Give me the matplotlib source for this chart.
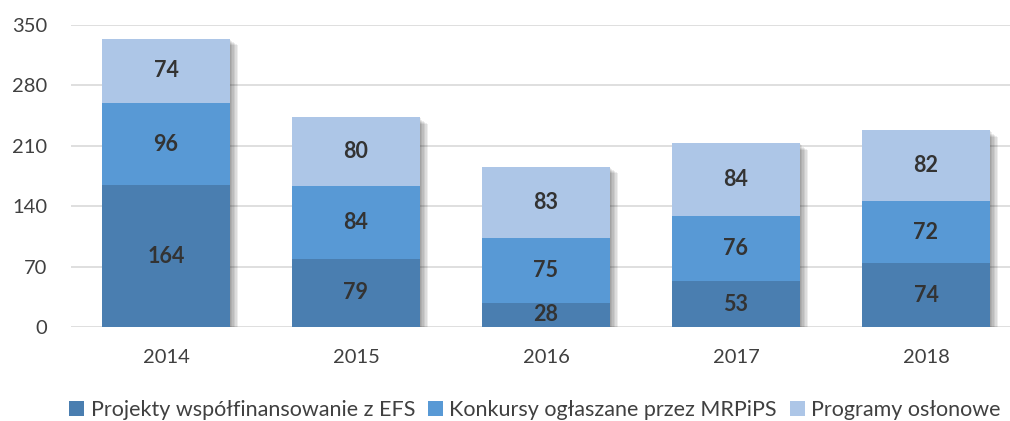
import matplotlib
matplotlib.use("Agg")
import matplotlib.pyplot as plt
import matplotlib.patheffects as pe
import numpy as np

years = ["2014", "2015", "2016", "2017", "2018"]
efs = [164, 79, 28, 53, 74]
mrpips = [96, 84, 75, 76, 72]
oslonowe = [74, 80, 83, 84, 82]

series_names = ["Projekty współfinansowanie z EFS",
                "Konkursy ogłaszane przez MRPiPS",
                "Programy osłonowe"]
colors = ["#4a7eb0", "#5899d5", "#adc6e7"]
yticks = [0, 70, 140, 210, 280, 350]

plt.rcParams["font.family"] = ["Lato", "DejaVu Sans"]

fig = plt.figure(figsize=(10.10, 4.21), dpi=100)
ax = fig.add_axes([71 / 1010, 94 / 421, 950 / 1010, 302 / 421])

x = np.arange(len(years))
width = 0.67
data = [np.array(efs), np.array(mrpips), np.array(oslonowe)]
totals = sum(data)

# soft drop shadow behind each full stack (shadow only, no face drawn)
shadow = [pe.SimplePatchShadow(offset=(d, -d * 0.8), shadow_rgbFace="#000000", alpha=0.07)
          for d in (1, 2, 3, 4, 5, 6)]
ax.bar(x, totals, width, color="none", zorder=1, path_effects=shadow)

bottom = np.zeros(len(years))
for vals, name, col in zip(data, series_names, colors):
    ax.bar(x, vals, width, bottom=bottom, color=col, label=name, zorder=2)
    for xi, b, v in zip(x, bottom, vals):
        ax.text(xi, b + v / 2, str(v), ha="center", va="center",
                fontsize=15.5, fontweight="bold", color="#333333", zorder=3)
    bottom = bottom + vals

ax.set_xlim(-0.5, len(years) - 0.5)
ax.set_ylim(0, 350)
ax.set_yticks(yticks)
ax.set_xticks(x, years)
ax.yaxis.grid(True, color="#d9d9d9", linewidth=1.2)
ax.set_axisbelow(True)
for s in ax.spines.values():
    s.set_visible(False)
ax.tick_params(axis="both", length=0, labelsize=14.5, colors="#404040")
ax.tick_params(axis="y", pad=17)
ax.tick_params(axis="x", pad=16)

fig.legend(loc="center", bbox_to_anchor=(535 / 1010, 11 / 421), ncol=3,
           frameon=False, fontsize=15.5, handlelength=0.7, handleheight=0.7,
           handletextpad=0.3, columnspacing=0.6, labelcolor="#404040")

fig.savefig("out.png", dpi=100)
